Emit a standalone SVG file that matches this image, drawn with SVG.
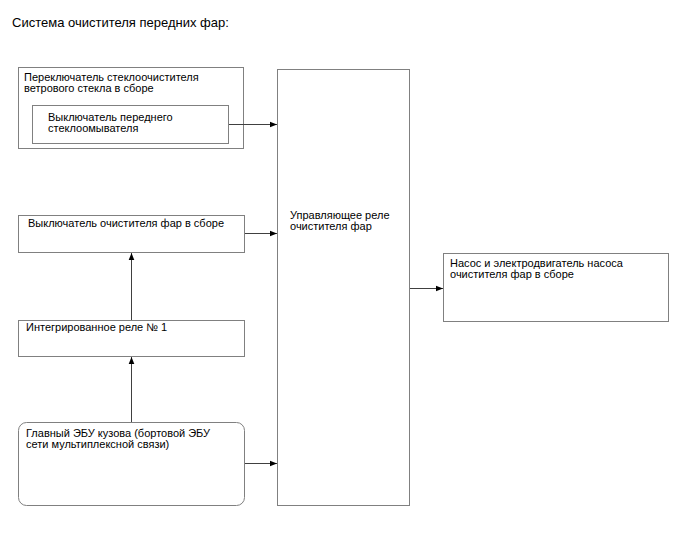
<svg xmlns="http://www.w3.org/2000/svg" width="688" height="560" viewBox="0 0 688 560">
<defs>
<marker id="ah" viewBox="0 0 10 10" refX="10" refY="5" markerWidth="10" markerHeight="7" markerUnits="userSpaceOnUse" orient="auto">
<path d="M0,1 L10,5 L0,9 z" fill="#000"/>
</marker>
<style>
.b{fill:#fff;stroke:#808080;stroke-width:1}
.t{font-family:"Liberation Sans",Arial,sans-serif;font-size:11px;fill:#000}
.c{fill:none;stroke:#404040;stroke-width:1;marker-end:url(#ah)}
</style>
</defs>
<rect width="688" height="560" fill="#fff"/>
<text x="12" y="27" class="t" style="font-size:13px">Система очистителя передних фар:</text>
<g id="n1">
<rect class="b" x="18.5" y="67.5" width="225" height="81"/>
<text class="t" x="24" y="81">Переключатель стеклоочистителя</text>
<text class="t" x="24" y="92">ветрового стекла в сборе</text>
</g>
<g id="n2">
<rect class="b" x="32.5" y="105.5" width="196" height="38"/>
<text class="t" x="48" y="121">Выключатель переднего</text>
<text class="t" x="48" y="132">стеклоомывателя</text>
</g>
<g id="n3">
<rect class="b" x="18.5" y="215.5" width="226" height="37"/>
<text class="t" x="28" y="227">Выключатель очистителя фар в сборе</text>
</g>
<g id="n4">
<rect class="b" x="18.5" y="320.5" width="226" height="36"/>
<text class="t" x="26" y="331">Интегрированное реле № 1</text>
</g>
<g id="n5">
<rect class="b" x="18.5" y="422.5" width="226" height="83" rx="8" ry="8"/>
<text class="t" x="26" y="437">Главный ЭБУ кузова (бортовой ЭБУ</text>
<text class="t" x="26" y="448">сети мультиплексной связи)</text>
</g>
<g id="n6">
<rect class="b" x="277.5" y="69.5" width="132" height="436"/>
<text class="t" x="290" y="219">Управляющее реле</text>
<text class="t" x="290" y="230">очистителя фар</text>
</g>
<g id="n7">
<rect class="b" x="443.5" y="253.5" width="225" height="68"/>
<text class="t" x="450" y="267">Насос и электродвигатель насоса</text>
<text class="t" x="450" y="278">очистителя фар в сборе</text>
</g>
<g id="connectors">
<line class="c" x1="229" y1="124.5" x2="277" y2="124.5"/>
<line class="c" x1="245" y1="233.5" x2="277" y2="233.5"/>
<line class="c" x1="131.5" y1="320" x2="131.5" y2="253"/>
<line class="c" x1="131.5" y1="422" x2="131.5" y2="357"/>
<line class="c" x1="245" y1="463.5" x2="277" y2="463.5"/>
<line class="c" x1="410" y1="288.5" x2="443" y2="288.5"/>
</g>
</svg>
